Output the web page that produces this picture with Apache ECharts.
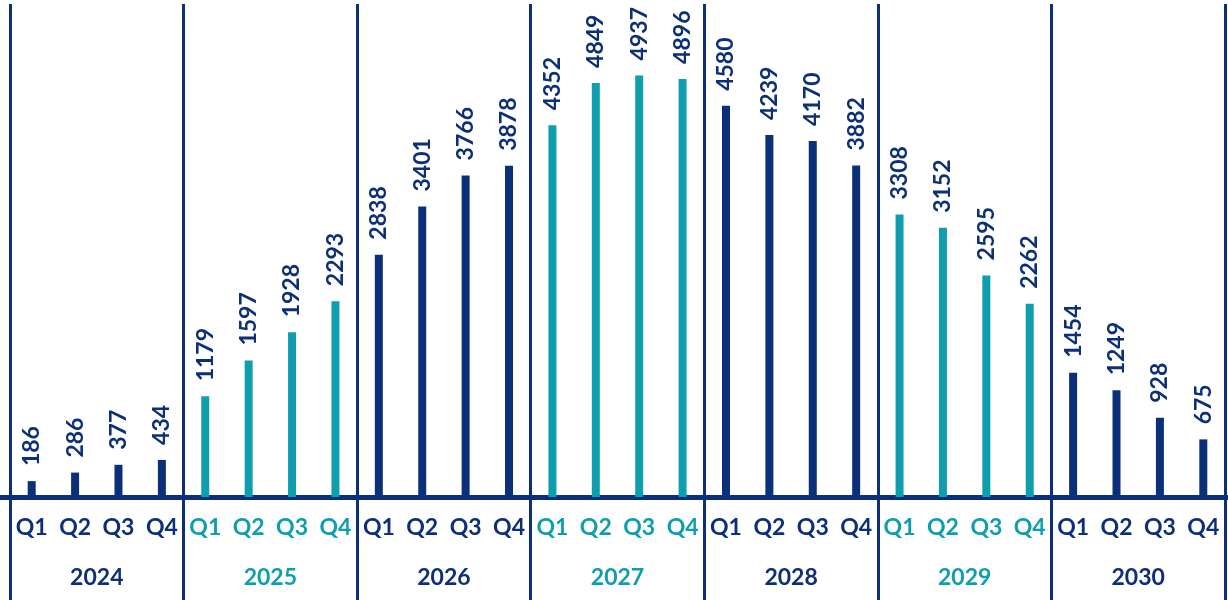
<!DOCTYPE html>
<html>
<head>
<meta charset="utf-8">
<script src="https://cdn.jsdelivr.net/npm/echarts@6/dist/echarts.min.js"></script>
<style>
html,body{margin:0;padding:0;background:#fff;}
#chart{width:1228px;height:600px;}
</style>
</head>
<body>
<div id="chart"></div>
<script>
var years = ['2024','2025','2026','2027','2028','2029','2030'];
var quarters = ['Q1','Q2','Q3','Q4'];
var values = [186,286,377,434, 1179,1597,1928,2293, 2838,3401,3766,3878, 4352,4849,4937,4896, 4580,4239,4170,3882, 3308,3152,2595,2262, 1454,1249,928,675];

var NAVY = '#0b2f78';
var TEAL = '#0e9eae';
var FONT = 'Lato';

var categories = [];
years.forEach(function(y){ quarters.forEach(function(q){ categories.push(y + ' ' + q); }); });
function colorFor(yearIdx){ return yearIdx % 2 === 0 ? NAVY : TEAL; }

var chart = echarts.init(document.getElementById('chart'));
chart.setOption({
  animation: false,
  grid: [
    {left: 10, right: 3, top: 70, bottom: 103},
    {left: 10, right: 3, top: 4, bottom: 0},
    {left: 0, right: 0, top: 70, bottom: 103}
  ],
  xAxis: [
    {
      type: 'category', gridIndex: 0, data: categories,
      axisLine: {show: true, lineStyle: {color: NAVY, width: 5}},
      axisTick: {show: false},
      axisLabel: {
        interval: 0, margin: 19,
        fontFamily: FONT, fontSize: 23, fontWeight: 'bold',
        formatter: function(v){ return v.split(' ')[1]; },
        color: function(v, i){ return colorFor(Math.floor(i / 4)); }
      }
    },
    {
      type: 'category', gridIndex: 0, data: years, position: 'bottom',
      axisLine: {show: false}, axisTick: {show: false},
      axisLabel: {
        interval: 0, margin: 69,
        fontFamily: FONT, fontSize: 23, fontWeight: 'bold',
        color: function(v, i){ return colorFor(i); }
      }
    },
    {
      type: 'category', gridIndex: 1, data: years,
      axisLine: {show: false}, axisTick: {show: false}, axisLabel: {show: false},
      splitLine: {show: true, interval: 0, lineStyle: {color: NAVY, width: 3}}
    },
    {
      type: 'category', gridIndex: 2, data: years,
      axisLine: {show: true, lineStyle: {color: NAVY, width: 5}},
      axisTick: {show: false}, axisLabel: {show: false}, splitLine: {show: false}
    }
  ],
  yAxis: [
    {type: 'value', gridIndex: 0, min: 0, max: 5000, show: false},
    {type: 'value', gridIndex: 1, show: false},
    {type: 'value', gridIndex: 2, show: false}
  ],
  series: [{
    type: 'bar', xAxisIndex: 0, yAxisIndex: 0,
    data: values, barWidth: 8,
    itemStyle: {color: function(p){ return colorFor(Math.floor(p.dataIndex / 4)); }},
    label: {
      show: true, position: 'top', rotate: 90, align: 'left', verticalAlign: 'middle',
      distance: 15, fontFamily: FONT, fontSize: 23, fontWeight: 'bold',
      color: function(p){ return colorFor(Math.floor(p.dataIndex / 4)); }
    }
  }]
});
</script>
</body>
</html>
